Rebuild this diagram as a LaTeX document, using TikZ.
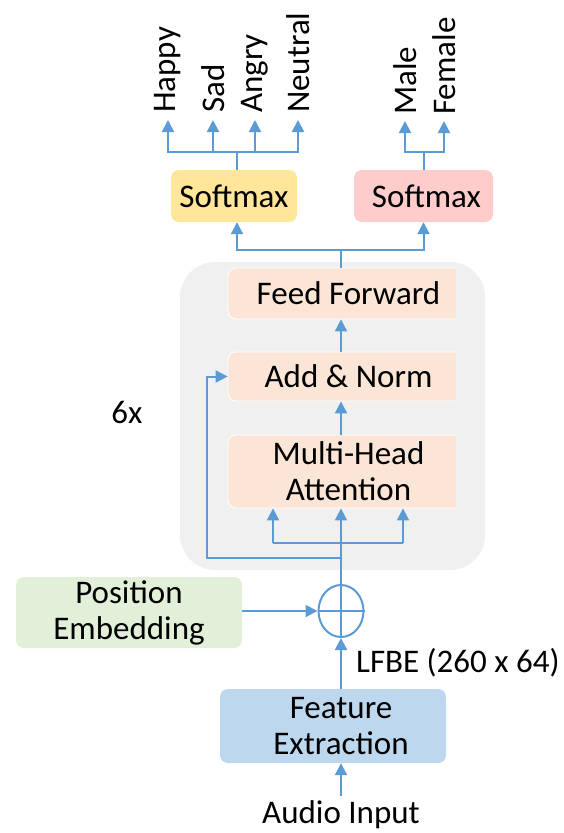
\documentclass[tikz,border=0pt]{standalone}
\usepackage{fontspec}
\setmainfont{Carlito}
\usetikzlibrary{arrows.meta,shapes.geometric}

\definecolor{flow}{HTML}{5B9BD5}
\definecolor{panelgray}{HTML}{F0F0F0}
\definecolor{peach}{HTML}{FBE5D6}
\definecolor{sunny}{HTML}{FFE699}
\definecolor{rose}{HTML}{FFCCCC}
\definecolor{mint}{HTML}{E2F0D9}
\definecolor{sky}{HTML}{BDD7EE}

\begin{document}
\begin{tikzpicture}[x=1pt,y=-1pt,
  txt/.style={font=\fontsize{33}{36}\selectfont, align=center, text=black},
  block/.style={txt, rounded corners=8pt, inner sep=0pt},
  layer/.style={block, fill=peach, draw=white, line width=0.8pt, minimum width=241pt},
  wire/.style={draw=flow, line width=2pt},
  link/.style={wire, -{Triangle[width=12pt,length=12pt]}},
  tag/.style={font=\fontsize{33}{36}\selectfont, rotate=90, anchor=west, inner xsep=7pt, inner ysep=0pt}
]
\useasboundingbox (0,0) rectangle (564,833);

% encoder panel
\node[fill=panelgray, rounded corners=35pt, minimum width=305pt, minimum height=308pt, inner sep=0pt] (enc) at (332.5,416) {};

% encoder layers (right side cut off by the panel)
\begin{scope}
  \clip (0,0) rectangle (456,833);
  \node[layer, minimum height=51pt] (ff)  at (348.5,293.5) {Feed Forward};
  \node[layer, minimum height=49pt] (an)  at (348.5,376.5) {Add \& Norm};
  \node[layer, minimum height=73pt] (mha) at (348.5,471.5) {Multi-Head\\Attention};
\end{scope}

\node[txt] (rep) at (127,412) {6x};

% classifier heads
\node[block, fill=sunny, minimum width=126pt, minimum height=52pt] (sm1) at (234,196) {Softmax};
\node[block, fill=rose, minimum width=139pt, minimum height=52pt] (sm2) at (423.5,196) {\hspace*{6pt}Softmax};

% output labels
\node[tag] (happy)   at (168,120) {Happy};
\node[tag] (sad)     at (213,120) {Sad};
\node[tag] (angry)   at (255,120) {Angry};
\node[tag] (neutral) at (298,120) {Neutral};
\node[tag, inner xsep=6pt] (male)   at (405,121) {Male};
\node[tag, inner xsep=6pt] (female) at (444,121) {Female};

% input side
\node[ellipse, draw=flow, line width=2pt, minimum width=45pt, minimum height=52pt, inner sep=0pt] (add) at (341,611) {};
\node[block, fill=mint, minimum width=226pt, minimum height=71pt] (pe) at (129,612.5) {Position\\Embedding};
\node[block, fill=sky, minimum width=226pt, minimum height=74pt] (fe) at (333,726) {};
\node[txt] (fetext) at (341,726) {Feature\\Extraction};
\node[txt, inner sep=5pt] (audio) at (341,815) {Audio Input};
\node[txt, anchor=west, inner sep=0pt] (dims) at (356,663) {LFBE (260 x 64)};

% helper points
\coordinate (spine) at (341,0);
\coordinate (hub) at (341,250);
\coordinate (lx) at (237,0);
\coordinate (ej) at (237,152);
\coordinate (gj) at (423.5,152);
\coordinate (qa) at (273,543);
\coordinate (qb) at (403,543);
\coordinate (rs) at (341,558);
\coordinate (rl) at (207,558);

% audio -> features -> sum
\draw[link] (audio.north) -- (fe.south -| spine);
\draw[link] (fe.north -| spine) -- (add.south);
\draw[wire] (add.south) -- (add.north);
\draw[wire] (add.west) -- (add.east);
\draw[link] (pe.east |- add) -- (add.west);

% sum -> attention (query, key, value) and residual
\draw[link] (add.north) -- (mha.south -| spine);
\draw[wire] (qa) -- (qb);
\draw[link] (qa) -- (qa |- mha.south);
\draw[link] (qb) -- (qb |- mha.south);
\draw[link] (rs) -- (rl) |- (an.west);

% inside the layer
\draw[link] (mha.north -| spine) -- (an.south -| spine);
\draw[link] (an.north -| spine) -- (ff.south -| spine);

% layer -> both heads
\draw[wire] (ff.north -| spine) -- (hub);
\draw[link] (hub) -| (sm1.south -| lx);
\draw[link] (hub) -| (sm2.south);

% emotion head
\draw[wire] (sm1.north -| lx) -- (ej);
\draw[link] (ej) -| (happy.west);
\draw[link] (ej) -| (sad.west);
\draw[link] (ej) -| (angry.west);
\draw[link] (ej) -| (neutral.west);

% gender head
\draw[wire] (sm2.north) -- (gj);
\draw[link] (gj) -| (male.west);
\draw[link] (gj) -| (female.west);
\end{tikzpicture}
\end{document}
